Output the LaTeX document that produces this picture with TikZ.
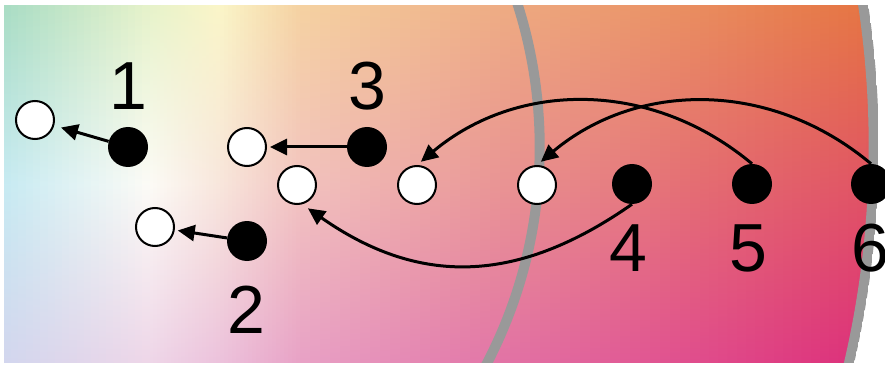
\documentclass[tikz,border=0pt]{standalone}
\usepackage{fontspec}
\setmainfont{Liberation Sans}
\usetikzlibrary{arrows.meta}
\definecolor{c0t}{HTML}{A8DCC4}\definecolor{c0m}{HTML}{C6EAF2}\definecolor{c0b}{HTML}{D2D6EE}
\definecolor{c1t}{HTML}{E6F2CA}\definecolor{c1m}{HTML}{FCFBF6}\definecolor{c1b}{HTML}{EED6E8}
\definecolor{c2t}{HTML}{FAF5C8}\definecolor{c2m}{HTML}{F8E6DC}\definecolor{c2b}{HTML}{ECC2DC}
\definecolor{c3t}{HTML}{F5D2A2}\definecolor{c3m}{HTML}{F2C4C0}\definecolor{c3b}{HTML}{E8A2C6}
\definecolor{c4t}{HTML}{EEAC84}\definecolor{c4m}{HTML}{E99494}\definecolor{c4b}{HTML}{E274A6}
\definecolor{c5t}{HTML}{E98C5E}\definecolor{c5m}{HTML}{E46C72}\definecolor{c5b}{HTML}{E04C8C}
\definecolor{c6t}{HTML}{E57240}\definecolor{c6m}{HTML}{E05262}\definecolor{c6b}{HTML}{DC2C78}
\definecolor{arcgray}{HTML}{999999}
\tikzset{
  bdot/.style={circle, fill=black, minimum size=40pt, inner sep=0pt},
  wdot/.style={circle, fill=white, draw=black, line width=2pt, minimum size=38pt, inner sep=0pt},
  lbl/.style={font=\fontsize{68}{68}\selectfont, inner sep=0pt},
  arr/.style={line width=3pt, -{Triangle[length=17pt,width=16pt]}},
  grayarc/.style={draw=arcgray, line width=10pt},
}
\begin{document}
\begin{tikzpicture}[x=1pt,y=1pt]
\useasboundingbox (0,0) rectangle (885,367);
\fill[white] (0,0) rectangle (885,367);
% background gradient
\begin{scope}
  \clip (4,5) rectangle (885,361);
  \clip (-74.8,220) circle (948.5);
  \foreach \i/\xa/\xb in {0/4/150, 1/150/220, 2/220/300, 3/300/500, 4/500/700, 5/700/885} {
    \pgfmathtruncatemacro\j{\i+1}
    \foreach \k in {0,...,19} {
      \pgfmathtruncatemacro\p{100-(\k+0.5)*5}
      \pgfmathsetmacro\xl{\xa+(\xb-\xa)*\k/20}
      \pgfmathsetmacro\xr{\xa+(\xb-\xa)*(\k+1)/20+1}
      \colorlet{st}{c\i t!\p!c\j t}
      \colorlet{sm}{c\i m!\p!c\j m}
      \colorlet{sb}{c\i b!\p!c\j b}
      \shade[top color=st, bottom color=sb, middle color=sm] (\xl,5) rectangle (\xr,361);
    }
  }
\end{scope}
% gray arcs
\begin{scope}
  \clip (4,5) rectangle (885,361);
  \draw[grayarc] (70.7,220) circle (469);
  \begin{scope}
    \clip (-74.8,220) circle (953.5);
    \draw[grayarc] (-74.8,220) circle (948.5);
  \end{scope}
\end{scope}
% dots
\node[wdot] (w1) at (35,247) {};
\node[bdot] (b1) at (128,220) {};
\node[wdot] (w2) at (155,140) {};
\node[bdot] (b2) at (247,126) {};
\node[wdot] (w3) at (247,220) {};
\node[bdot] (b3) at (367,220) {};
\node[wdot] (m1) at (297,182) {};
\node[wdot] (m2) at (417,182) {};
\node[wdot] (m3) at (537,182) {};
\node[bdot] (b4) at (632,183) {};
\node[bdot] (b5) at (752,183) {};
\node[bdot] (b6) at (871,183) {};
% labels
\node[lbl] (l1) at (128,281) {1};
\node[lbl] (l3) at (367,281) {3};
\node[lbl] (l2) at (246,57) {2};
\node[lbl] (l4) at (628,119) {4};
\node[lbl] (l5) at (748,119) {5};
\node[lbl] (l6) at (870,119) {6};
% arrows
\draw[arr, shorten >=7pt] (b1) -- (w1);
\draw[arr, shorten >=3pt] (b2) -- (w2);
\draw[arr, shorten >=3pt] (b3) -- (w3);
\draw[arr, shorten >=7pt] (b4.south) to[out=215, in=-35, looseness=1.1] (m1.-75);
\draw[arr, shorten >=5pt] (b5.north) to[out=140, in=40] (m2.north);
\draw[arr, shorten >=5pt] (b6.north) to[out=140, in=40] (m3.north);
\end{tikzpicture}
\end{document}
